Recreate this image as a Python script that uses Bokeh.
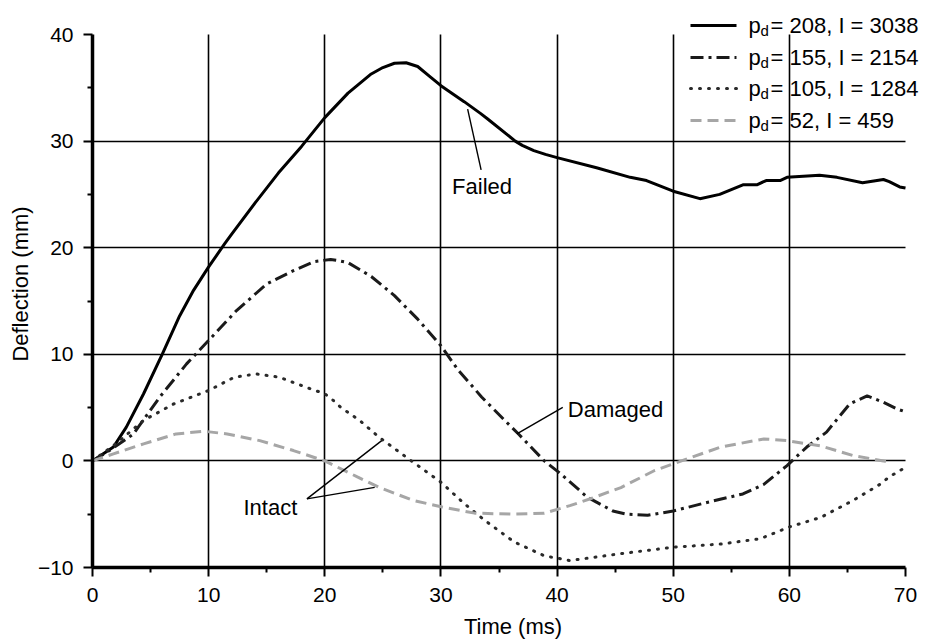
from bokeh.plotting import figure
from bokeh.models import Range1d, FixedTicker, Label, Arrow
from bokeh.embed import file_html
from bokeh.resources import INLINE

# ---------------- data ----------------
t_208 = [0, 1.8, 2.9, 4.4, 6.0, 7.5, 8.7, 10, 11.4, 12, 14, 16, 18, 20, 22, 24, 25, 26, 27, 28,
         29, 30, 32, 33.4, 34, 36.4, 37, 38, 39, 40, 43.4, 46.3, 47.7, 50, 52.3, 54, 56, 57.2, 58,
         59.2, 59.8, 62.6, 64.1, 66.3, 68.1, 68.6, 69.5, 70]
d_208 = [0, 1.3, 3.15, 6.3, 10, 13.6, 16.0, 18.2, 20.4, 21.3, 24.2, 27.0, 29.5, 32.2, 34.5, 36.3,
         36.9, 37.3, 37.35, 37.0, 36.1, 35.2, 33.7, 32.6, 32.1, 30.0, 29.6, 29.1, 28.75, 28.45,
         27.5, 26.6, 26.3, 25.3, 24.6, 25.0, 25.9, 25.9, 26.3, 26.3, 26.6, 26.8, 26.6, 26.1, 26.4,
         26.2, 25.7, 25.6]

t_155 = [0, 1.5, 3.5, 5.8, 8.1, 10, 12.4, 15, 17.3, 19.1, 20.5, 21.1, 22, 24, 26, 28, 30, 31.5,
         33.5, 35.5, 36.7, 38.9, 40.3, 42.6, 44.8, 46, 47.8, 50, 52.9, 56, 57.8, 59.8, 61.5, 63.2,
         65.2, 66.7, 68.1, 69.2, 70]
d_155 = [0, 1.0, 2.5, 6.0, 9.1, 11.3, 14.1, 16.6, 17.85, 18.7, 18.9, 18.8, 18.6, 17.3, 15.5, 13.3,
         10.8, 8.5, 6.0, 3.8, 2.5, 0.0, -1.2, -3.4, -4.7, -5.0, -5.1, -4.7, -3.9, -3.1, -2.2, -0.44,
         1.3, 2.7, 5.35, 6.1, 5.5, 4.9, 4.6]

t_105 = [0, 2, 4.4, 7, 10, 12.2, 14.1, 16.1, 18.4, 20, 20.7, 21.4, 23, 24.7, 27.2, 30, 32, 33.8,
         36.3, 38.9, 41.1, 45.5, 50, 54.1, 57.5, 60, 62.7, 65.5, 67.8, 68.6, 70]
d_105 = [0, 1.6, 3.8, 5.35, 6.6, 7.85, 8.16, 7.85, 6.9, 6.3, 5.7, 5.0, 3.8, 2.2, 0.2, -2.0, -4.0,
         -5.6, -7.6, -8.9, -9.35, -8.7, -8.1, -7.8, -7.3, -6.2, -5.3, -3.7, -2.2, -1.5, -0.6]

t_52 = [0, 1.8, 4.4, 7.2, 9.6, 11.6, 14.4, 17.3, 20, 22.8, 24.7, 27.6, 30, 32.9, 36.3, 38.9, 41.1,
        43, 45.5, 48.4, 51.2, 54.1, 57.8, 59.8, 62.7, 65.5, 68.1, 68.5]
d_52 = [0, 0.66, 1.6, 2.53, 2.78, 2.53, 1.9, 0.97, 0.0, -1.5, -2.5, -3.7, -4.3, -4.9, -5.0, -4.9,
        -4.2, -3.5, -2.5, -0.9, 0.2, 1.3, 2.06, 1.9, 1.4, 0.5, 0.0, -0.1]

legend_pd = ["208", "155", "105", "52"]
legend_I = ["3038", "2154", "1284", "459"]

x_ticks = [0, 10, 20, 30, 40, 50, 60, 70]
x_minor = [5, 15, 25, 35, 45, 55, 65]
y_ticks = [-10, 0, 10, 20, 30, 40]
y_minor = [-5, 5, 15, 25, 35]
x_grid = [10, 20, 30, 40, 50, 60]
y_grid = [0, 10, 20, 30]
x_lim = (0, 70)
y_lim = (-10, 40)

# annotation texts and anchors (data coordinates)
note_text = ["Failed", "Damaged", "Intact"]
note_x = [30.96, 40.92, 13.0]
note_y = [25.7, 4.8, -4.35]
lead_x0 = [33.46, 40.49, 18.46, 18.46]
lead_y0 = [27.3, 5.03, -3.56, -3.56]
lead_x1 = [32.3, 36.54, 24.9, 24.3]
lead_y1 = [33.0, 2.53, 1.9, -2.48]

FONT = "Liberation Sans"
W, H = 933, 642
# frame geometry: axes span px 92..905 (x) and 34..567 (y); frame extends to the
# right/top canvas edges so the legend (which sits outside the axes box) is not clipped
FL, FR, FT, FB = 92, 933, 0, 567
AX_R, AX_T = 905, 34
x_end = x_lim[0] + (x_lim[1] - x_lim[0]) * (FR - FL) / (AX_R - FL)
y_end = y_lim[0] + (y_lim[1] - y_lim[0]) * (FB - FT) / (FB - AX_T)

p = figure(width=W, height=H, output_backend="svg", toolbar_location=None,
           x_range=Range1d(x_lim[0], x_end), y_range=Range1d(y_lim[0], y_end),
           min_border_left=FL, min_border_right=W - FR, min_border_top=FT,
           min_border_bottom=H - FB)
p.outline_line_color = None
p.background_fill_color = "white"
p.border_fill_color = "white"

# grid
p.xgrid.ticker = FixedTicker(ticks=x_grid)
p.ygrid.ticker = FixedTicker(ticks=y_grid)
p.xgrid.cross_bounds = y_lim
p.ygrid.cross_bounds = x_lim
for g in (p.xgrid, p.ygrid):
    g.grid_line_color = "black"
    g.grid_line_width = 1.6
    g.grid_line_alpha = 1.0

# axes
p.xaxis.ticker = FixedTicker(ticks=x_ticks, minor_ticks=x_minor)
p.yaxis.ticker = FixedTicker(ticks=y_ticks, minor_ticks=y_minor)
p.xaxis.bounds = x_lim
p.yaxis.bounds = y_lim
p.yaxis.major_label_overrides = {-10: "\u221210"}
p.xaxis.axis_label = "Time (ms)"
p.yaxis.axis_label = "Deflection (mm)"
for ax in (p.xaxis, p.yaxis):
    ax.axis_line_width = 3.5
    ax.axis_line_color = "black"
    ax.major_tick_line_width = 2
    ax.minor_tick_line_width = 2
    ax.major_tick_out = 9
    ax.major_tick_in = 0
    ax.minor_tick_out = 5
    ax.minor_tick_in = 0
    ax.major_tick_line_color = "black"
    ax.minor_tick_line_color = "black"
    ax.major_label_text_font = FONT
    ax.major_label_text_font_size = "21px"
    ax.major_label_text_color = "black"
    ax.axis_label_text_font = FONT
    ax.axis_label_text_font_size = "22px"
    ax.axis_label_text_font_style = "normal"
    ax.axis_label_text_color = "black"
p.yaxis.major_label_standoff = 10
p.xaxis.major_label_standoff = 11
p.yaxis.axis_label_standoff = 2
p.xaxis.axis_label_standoff = 9

# series
styles = [
    dict(color="black", width=3.0, dash="solid", cap="butt"),
    dict(color="#1a1a1a", width=3.0, dash="13 5 3 5", cap="butt"),
    dict(color="#2a2a2a", width=3.0, dash="1 8", cap="round"),
    dict(color="#a6a6a6", width=3.0, dash="11 6", cap="butt"),
]
series = [(t_208, d_208), (t_155, d_155), (t_105, d_105), (t_52, d_52)]
for (tt, dd), st in zip(series, styles):
    p.line(tt, dd, line_color=st["color"], line_width=st["width"], line_dash=st["dash"],
           line_cap=st["cap"])

# leader lines and notes
p.segment(x0=lead_x0, y0=lead_y0, x1=lead_x1, y1=lead_y1, line_color="black", line_width=1.4)
for txt, nx, ny in zip(note_text, note_x, note_y):
    p.add_layout(Label(x=nx, y=ny, text=txt, text_font=FONT, text_font_size="22px",
                       text_baseline="middle", text_align="left", text_color="black"))

# manual legend (screen units are measured from the frame's bottom-left corner)
leg_line_x0, leg_line_x1 = 690, 736
leg_text_x = 748
row_top = [25, 57, 88, 120]


def sx(px):
    return px - FL


def sy(py):
    return FB - py


for i, st in enumerate(styles):
    yy = sy(row_top[i])
    p.add_layout(Arrow(end=None, x_start=sx(leg_line_x0), y_start=yy, x_end=sx(leg_line_x1),
                       y_end=yy, start_units="screen", end_units="screen",
                       line_color=st["color"], line_width=st["width"], line_dash=st["dash"],
                       line_cap=st["cap"]))
    p.add_layout(Label(x=sx(leg_text_x), y=yy, x_units="screen", y_units="screen", text="p",
                       text_font=FONT, text_font_size="22px", text_baseline="middle",
                       text_color="black"))
    p.add_layout(Label(x=sx(leg_text_x + 12), y=yy - 5, x_units="screen", y_units="screen",
                       text="d", text_font=FONT, text_font_size="15px",
                       text_baseline="middle", text_color="black"))
    p.add_layout(Label(x=sx(leg_text_x + 22), y=yy, x_units="screen", y_units="screen",
                       text="= " + legend_pd[i] + ", I = " + legend_I[i],
                       text_font=FONT, text_font_size="22px", text_baseline="middle",
                       text_color="black"))

open("out.html", "w").write(file_html(p, INLINE))
